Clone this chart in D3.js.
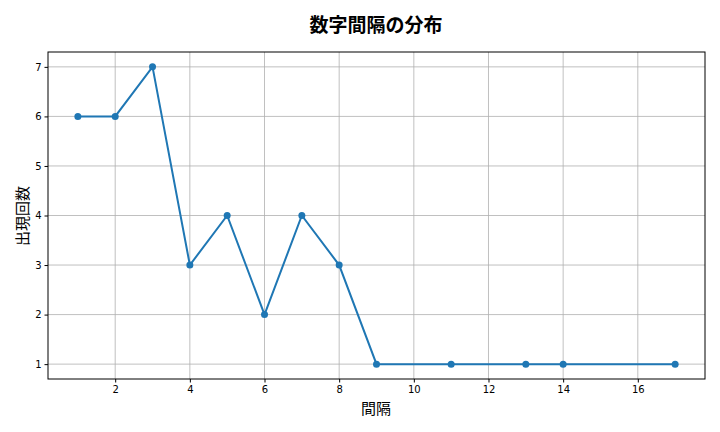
<!DOCTYPE html><html><head><meta charset="utf-8"><script src="https://cdn.jsdelivr.net/npm/d3@7"></script>
<style>body{margin:0;background:#fff}text{font-family:"Noto Sans CJK JP","DejaVu Sans",sans-serif}</style></head><body><svg id="c" width="720" height="432"></svg><script>
const gaps=[1,2,3,4,5,6,7,8,9,11,13,14,17];
const counts=[6,6,7,3,4,2,4,3,1,1,1,1,1];
const xTicks=[2,4,6,8,10,12,14,16];
const yTicks=[1,2,3,4,5,6,7];
const svg=d3.select("#c");
const L=48,R=705,T=52,B=379;
const x=d3.scaleLinear().domain([0.2,17.8]).range([L,R]);
const y=d3.scaleLinear().domain([0.7,7.3]).range([B,T]);
const g=svg.append("g");
g.selectAll(".gx").data(xTicks).enter().append("line").attr("x1",d=>x(d)).attr("x2",d=>x(d)).attr("y1",T).attr("y2",B).attr("stroke","#b0b0b0").attr("stroke-width",0.8);
g.selectAll(".gy").data(yTicks).enter().append("line").attr("y1",d=>y(d)).attr("y2",d=>y(d)).attr("x1",L).attr("x2",R).attr("stroke","#b0b0b0").attr("stroke-width",0.8);
const xa=svg.append("g").attr("transform",`translate(0,${B})`).call(d3.axisBottom(x).tickValues(xTicks).tickFormat(d3.format("d")).tickSize(3.5).tickPadding(3));
const ya=svg.append("g").attr("transform",`translate(${L},0)`).call(d3.axisLeft(y).tickValues(yTicks).tickFormat(d3.format("d")).tickSize(3.5).tickPadding(3));
[xa,ya].forEach(a=>{a.select(".domain").remove();a.selectAll("text").attr("font-size",10).attr("fill","#000").style("font-family","DejaVu Sans");a.selectAll("line").attr("stroke","#000")});
svg.append("rect").attr("x",L).attr("y",T).attr("width",R-L).attr("height",B-T).attr("fill","none").attr("stroke","#000").attr("stroke-width",1);
const pts=gaps.map((d,i)=>[d,counts[i]]);
svg.append("path").attr("d",d3.line().x(d=>x(d[0])).y(d=>y(d[1]))(pts)).attr("fill","none").attr("stroke","#1f77b4").attr("stroke-width",2);
svg.selectAll(".p").data(pts).enter().append("circle").attr("cx",d=>x(d[0])).attr("cy",d=>y(d[1])).attr("r",3.5).attr("fill","#1f77b4");
svg.append("text").attr("x",376).attr("y",32).attr("text-anchor","middle").attr("font-size",19).attr("font-weight","bold").text("数字間隔の分布");
svg.append("text").attr("x",376).attr("y",414).attr("text-anchor","middle").attr("font-size",15).text("間隔");
svg.append("text").attr("transform","translate(28,216) rotate(-90)").attr("text-anchor","middle").attr("font-size",15).text("出現回数");
</script></body></html>
